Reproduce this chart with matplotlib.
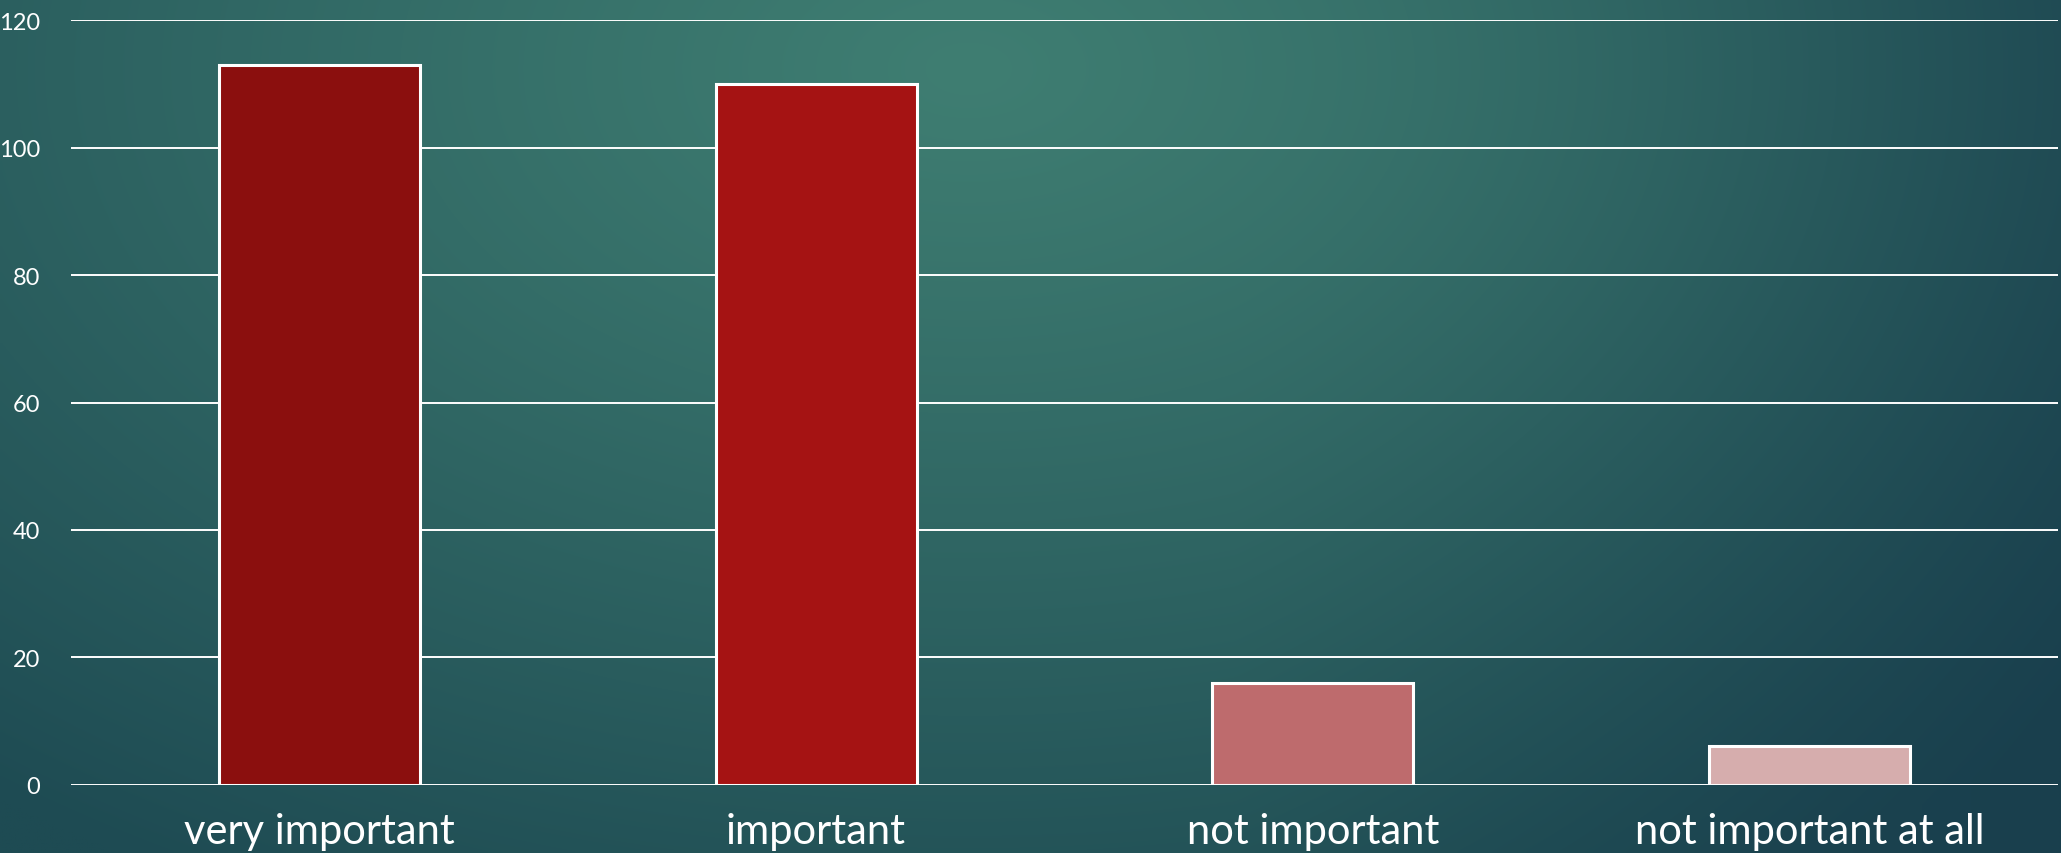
import numpy as np
import matplotlib.pyplot as plt
from matplotlib.colors import to_rgb

categories = ["very important", "important", "not important", "not important at all"]
counts = [113, 110, 16, 6]
bar_colors = ["#8B0F0E", "#A51313", "#BE6B6D", "#D6ADAD"]
yticks = [0, 20, 40, 60, 80, 100, 120]

W, H = 2061, 854
fig = plt.figure(figsize=(W / 100, H / 100), dpi=100)

# teal radial backdrop, brightest near the top middle
ny, nx = 220, 530
yy, xx = np.mgrid[0:1:ny * 1j, 0:1:nx * 1j]
d = np.sqrt(((xx - 0.47) / 0.75) ** 2 + ((yy - 0.08) / 1.1) ** 2)
d = np.clip(d, 0, 1) ** 1.1
c_mid = np.array(to_rgb("#3F7E72"))
c_edge = np.array(to_rgb("#1E4B53"))
c_blue = np.array(to_rgb("#183C4C"))
img = c_mid + (c_edge - c_mid) * d[..., None]
blue = np.clip((xx - 0.6) / 0.4, 0, 1) * np.clip(d * 1.2 - 0.2, 0, 1)
img = img + (c_blue - img) * blue[..., None] * 0.8
bg = fig.add_axes([0, 0, 1, 1])
bg.imshow(img, extent=[0, 1, 0, 1], aspect="auto", interpolation="bilinear")
bg.axis("off")

ax = fig.add_axes([71 / W, 68.3 / H, 1987 / W, 764.4 / H])
ax.set_facecolor("none")
x = np.arange(len(categories))
ax.bar(x, counts, width=0.405, color=bar_colors, edgecolor="white", linewidth=2.2, zorder=3)
ax.set_xlim(-0.5, 3.5)
ax.set_ylim(0, 120)
ax.set_yticks(yticks)
ax.yaxis.grid(True, color="white", linewidth=1.4, zorder=0)
ax.set_axisbelow(True)
for s in ax.spines.values():
    s.set_visible(False)
ax.tick_params(length=0, labelcolor="white")
ax.tick_params(axis="y", labelsize=17, pad=22)
ax.tick_params(axis="x", labelsize=30, pad=20)
ax.set_xticks(x)
ax.set_xticklabels(categories)
for lab in ax.get_xticklabels() + ax.get_yticklabels():
    lab.set_family("Lato")
    lab.set_color("white")

fig.savefig("out.png", dpi=100)
